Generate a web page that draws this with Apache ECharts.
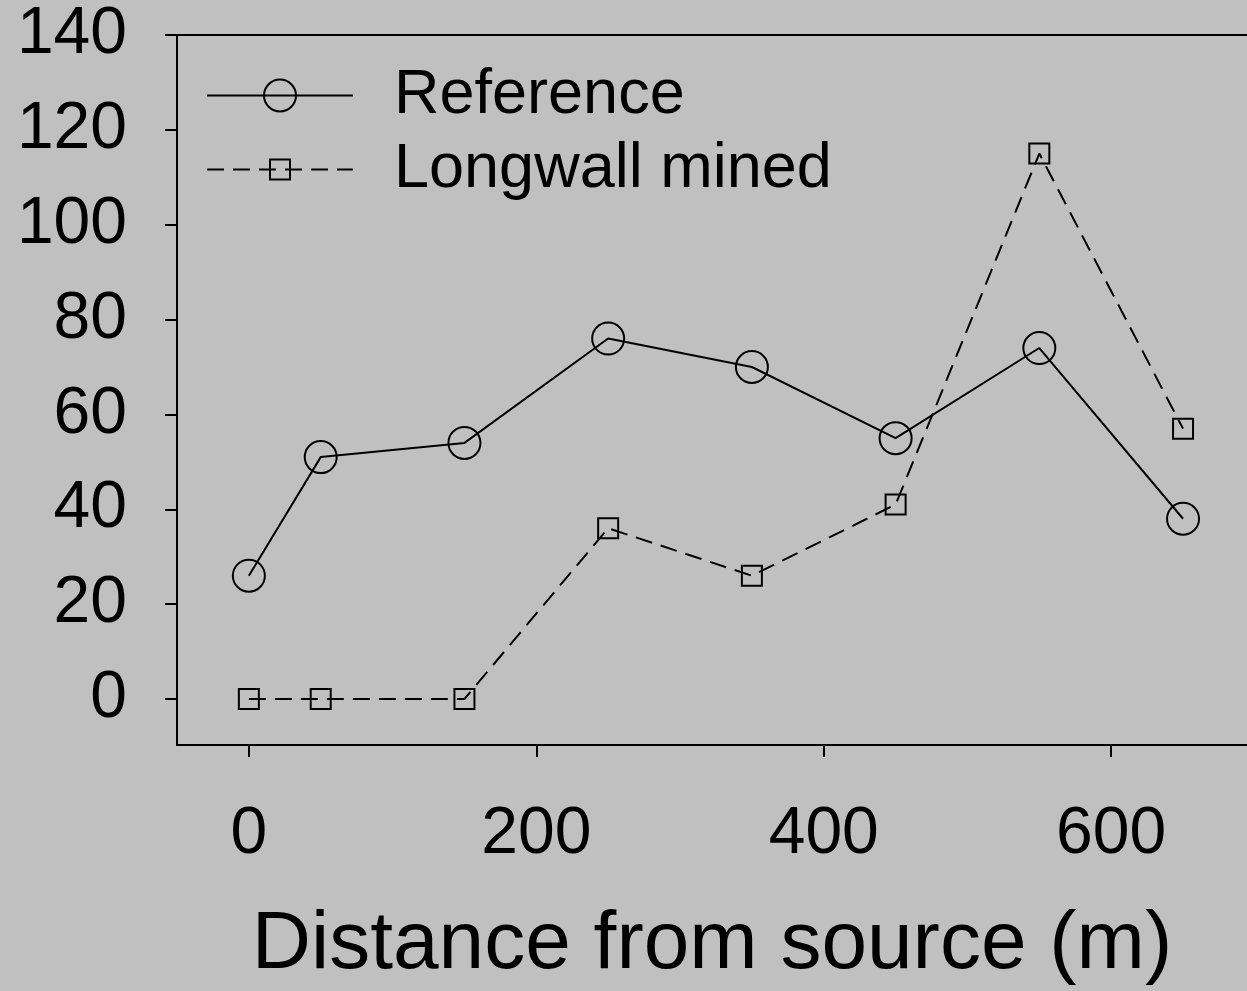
<!DOCTYPE html>
<html><head><meta charset="utf-8">
<script src="https://cdn.jsdelivr.net/npm/echarts@6/dist/echarts.min.js"></script>
<style>html,body{margin:0;padding:0;background:#c0c0c0;}#c{width:1247px;height:991px;}</style>
</head><body><div id="c"></div>
<script>
const distances = [0, 50, 150, 250, 350, 450, 550, 650];
const referenceValues = [26, 51, 54, 76, 70, 55, 74, 38];
const longwallValues = [0, 0, 0, 36, 26, 41, 115, 57];
const yTicks = [0, 20, 40, 60, 80, 100, 120, 140];
const xTicks = [0, 200, 400, 600];
const seriesNames = ['Reference', 'Longwall mined'];
const xTitle = 'Distance from source (m)';

const font = "'Liberation Sans', Arial, sans-serif";
const chart = echarts.init(document.getElementById('c'));
const blackLine = {color: '#000', width: 2};
chart.setOption({
  backgroundColor: '#c0c0c0',
  animation: false,
  textStyle: {fontFamily: font, color: '#000'},
  grid: {left: 177, top: 35, bottom: 245, right: 0},
  legend: [
    {data: [seriesNames[0]], left: 206, top: 64, padding: 0, itemWidth: 146, itemHeight: 40,
     textStyle: {fontSize: 63, fontFamily: font, color: '#000', padding: [0, 0, 0, 36]}},
    {data: [seriesNames[1]], left: 206, top: 138, padding: 0, itemWidth: 146, itemHeight: 25,
     textStyle: {fontSize: 63, fontFamily: font, color: '#000', padding: [0, 0, 0, 36]}}
  ],
  xAxis: [{
    type: 'value', min: -50, max: 694.5, position: 'bottom',
    name: xTitle, nameLocation: 'middle', nameGap: 159,
    nameTextStyle: {fontSize: 82, fontFamily: font, color: '#000'},
    splitLine: {show: false},
    axisLine: {show: true, onZero: false, lineStyle: blackLine},
    axisTick: {show: true, length: 12, lineStyle: blackLine, customValues: xTicks},
    axisLabel: {fontSize: 66, fontFamily: font, color: '#000', margin: 57, customValues: xTicks}
  }, {
    type: 'value', min: -50, max: 694.5, position: 'top',
    splitLine: {show: false},
    axisLine: {show: true, onZero: false, lineStyle: blackLine},
    axisTick: {show: false}, axisLabel: {show: false}
  }],
  yAxis: {
    type: 'value', min: -9.7, max: 140,
    splitLine: {show: false},
    axisLine: {show: true, onZero: false, lineStyle: blackLine},
    axisTick: {show: true, length: 12, lineStyle: blackLine, customValues: yTicks},
    axisLabel: {fontSize: 66, fontFamily: font, color: '#000', margin: 50, customValues: yTicks}
  },
  series: [
    {name: seriesNames[0], type: 'line', xAxisIndex: 0, data: distances.map((d, i) => [d, referenceValues[i]]),
     symbol: 'circle', symbolSize: 32,
     itemStyle: {color: 'transparent', borderColor: '#000', borderWidth: 2},
     lineStyle: {color: '#000', width: 2}},
    {name: seriesNames[1], type: 'line', xAxisIndex: 0, data: distances.map((d, i) => [d, longwallValues[i]]),
     symbol: 'rect', symbolSize: 20,
     itemStyle: {color: 'transparent', borderColor: '#000', borderWidth: 2},
     lineStyle: {color: '#000', width: 2, type: [17, 9]}}
  ]
});
</script></body></html>
